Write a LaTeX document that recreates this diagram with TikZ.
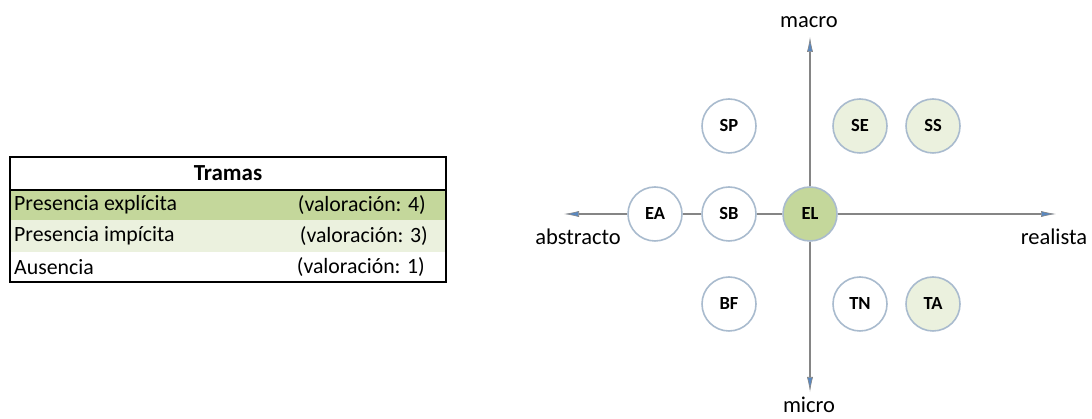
\documentclass[tikz,border=0pt]{standalone}
\usepackage{fontspec}
\setmainfont{Carlito}
\usetikzlibrary{arrows.meta}
\definecolor{tgreen}{HTML}{C4D79B}
\definecolor{tlight}{HTML}{EBF1DE}
\definecolor{ring}{HTML}{A9BBCE}
\definecolor{axisgray}{HTML}{858585}
\definecolor{tipblue}{HTML}{5A88C0}
\begin{document}
\begin{tikzpicture}[x=1pt,y=1pt,
  bubble/.style={circle, draw=ring, line width=1.6pt, minimum size=54pt, inner sep=0pt, fill=white,
    font=\fontsize{18.5}{18.5}\selectfont\bfseries},
  axisline/.style={draw=axisgray, line width=1.6pt},
  axisarrow/.style={axisline, -{Latex[length=15pt,width=6pt,fill=tipblue,color=axisgray,line width=0.6pt]}},
  axislabel/.style={font=\fontsize{22.5}{22.5}\selectfont, inner sep=0pt},
  celltext/.style={font=\fontsize{21.8}{21.8}\selectfont, inner sep=0pt}
]
\useasboundingbox (0,0) rectangle (1092,419);

% ---- legend table ----
\fill[tgreen] (10,229) rectangle (446,199);
\fill[tlight] (10,199) rectangle (446,167);
\draw[line width=1.8pt] (10,262) rectangle (446,137);
\draw[line width=1.2pt] (10,229) -- (446,229);
\node[celltext, font=\fontsize{23}{23}\selectfont\bfseries] (head) at (228,246) {Tramas};
\node[celltext, anchor=west] (r1a) at (14,214) {Presencia explícita};
\node[celltext, anchor=east] (r1b) at (426,214) {(valoración: 4)};
\node[celltext, anchor=west] (r2a) at (14,183) {Presencia impícita};
\node[celltext, anchor=east] (r2b) at (428,183) {(valoración: 3)};
\node[celltext, anchor=west] (r3a) at (14,152) {Ausencia};
\node[celltext, anchor=east] (r3b) at (425,152) {(valoración: 1)};

% ---- axes end points ----
\coordinate (left) at (564,205);
\coordinate (right) at (1056,205);
\coordinate (top) at (810,382);
\coordinate (bottom) at (810,27);

% ---- bubbles ----
\node[bubble, fill=tgreen] (EL) at (810,205) {EL};
\node[bubble] (SB) at (729,205) {SB};
\node[bubble] (EA) at (655,205) {EA};
\node[bubble] (SP) at (729,293) {SP};
\node[bubble, fill=tlight] (SE) at (860,293) {SE};
\node[bubble, fill=tlight] (SS) at (933,293) {SS};
\node[bubble] (BF) at (729,115) {BF};
\node[bubble] (TN) at (860,115) {TN};
\node[bubble, fill=tlight] (TA) at (933,115) {TA};

% ---- axes ----
\draw[axisline] (EL) -- (SB);
\draw[axisline] (SB) -- (EA);
\draw[axisarrow] (EA) -- (left);
\draw[axisarrow] (EL) -- (right);
\draw[axisarrow] (EL) -- (top);
\draw[axisarrow] (EL) -- (bottom);

% ---- axis labels ----
\node[axislabel] (macro) at (809,397) {macro};
\node[axislabel] (micro) at (809,14) {micro};
\node[axislabel] (abstracto) at (578,182) {abstracto};
\node[axislabel] (realista) at (1054,182) {realista};
\end{tikzpicture}
\end{document}
